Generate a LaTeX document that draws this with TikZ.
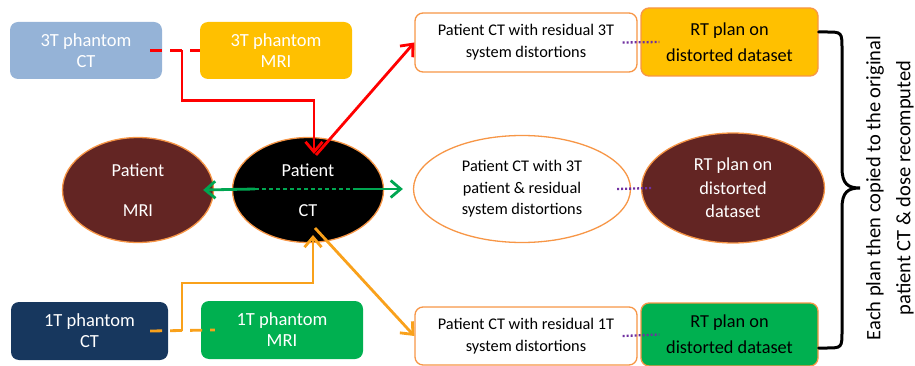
\documentclass[tikz,border=0pt]{standalone}
\usepackage{fontspec}
\setmainfont{Carlito}
\usetikzlibrary{arrows.meta,shapes.geometric}
\definecolor{phblue}{HTML}{95B3D7}
\definecolor{phgold}{HTML}{FFC000}
\definecolor{phnavy}{HTML}{17375E}
\definecolor{phgreen}{HTML}{00B050}
\definecolor{ptbrown}{HTML}{632523}
\definecolor{orng}{HTML}{F79646}
\definecolor{arrorng}{HTML}{F9A11B}
\definecolor{arrgreen}{HTML}{00A651}
\definecolor{purp}{HTML}{7030A0}
\tikzset{phbox/.style={rounded corners=8pt, minimum width=152pt, minimum height=57pt,
inner sep=0pt, align=center, text=white, font=\fontsize{18.5}{21}\selectfont},
wbox/.style={draw=orng, line width=1.3pt, fill=white, rounded corners=8pt, minimum width=222pt,
minimum height=59pt, inner sep=0pt, align=center, font=\fontsize{16.3}{22}\selectfont},
rbox/.style={draw=orng, line width=1.3pt, rounded corners=8pt, minimum width=177pt,
minimum height=68pt, inner sep=0pt, align=center, font=\fontsize{18.3}{26}\selectfont},
pell/.style={ellipse, draw=orng, line width=1.3pt, minimum width=151pt, minimum height=105pt,
inner sep=0pt, align=center, text=white, font=\fontsize{18.3}{40}\selectfont},
redarr/.style={draw=red, line width=2.8pt, -{Straight Barb[length=10pt,width=17pt]}},
reddash/.style={draw=red, line width=2.8pt, dash pattern=on 12pt off 8pt},
grnarr/.style={draw=arrgreen, line width=2.8pt, -{Straight Barb[length=10pt,width=17pt]}},
grndash/.style={draw=arrgreen, line width=1.8pt, dash pattern=on 4pt off 3pt},
orgarr/.style={draw=arrorng, line width=2.8pt, -{Straight Barb[length=10pt,width=17pt]}},
orgdash/.style={draw=arrorng, line width=2.8pt, dash pattern=on 12pt off 8pt},
purdot/.style={draw=purp, line width=2.3pt, dash pattern=on 2pt off 2pt},
brc/.style={draw=black, line width=3pt, line cap=round}}
\begin{document}
\begin{tikzpicture}[x=1pt,y=-1pt]
\useasboundingbox (0,0) rectangle (915,366);
% phantom scans
\node[phbox, fill=phblue] (ctA) at (86,50.5) {3T phantom\\CT};
\node[phbox, fill=phgold] (mriA) at (276,50.5) {3T phantom\\MRI};
\node[phbox, fill=phnavy, minimum width=157pt, minimum height=58pt] (ctB) at (89.5,331) {1T phantom\\CT};
\node[phbox, fill=phgreen, minimum width=162pt, minimum height=58pt] (mriB) at (282,330) {1T phantom\\MRI};
% patient scans
\node[pell, fill=ptbrown] (pMRI) at (138,190) {Patient\\MRI};
\node[pell, fill=black] (pCT) at (308,190) {Patient\\CT};
% distorted datasets
\node[wbox] (dA) at (526,42.5) {Patient CT with residual 3T\\system distortions};
\node[pell, fill=white, text=black, minimum width=217pt, minimum height=107pt,
font=\fontsize{16.3}{21.5}\selectfont] (dM) at (522,189) {Patient CT with 3T\\patient \& residual\\system distortions};
\node[wbox, minimum height=58pt] (dB) at (526,336) {Patient CT with residual 1T\\system distortions};
% plans
\node[rbox, fill=phgold] (rA) at (729.5,42) {RT plan on\\distorted dataset};
\node[pell, fill=ptbrown, minimum width=183pt, minimum height=110pt,
font=\fontsize{18.3}{23.5}\selectfont] (rM) at (733,188) {RT plan on\\distorted\\dataset};
\node[rbox, fill=phgreen, minimum height=63pt] (rB) at (729.5,334.5) {RT plan on\\distorted dataset};
% connectors
\coordinate (rj) at (182,50.5);
\coordinate (rin) at (314,154);
\coordinate (rout) at (316,155);
\coordinate (gl) at (255,189);
\coordinate (gr) at (353,189);
\coordinate (oj) at (182,331);
\coordinate (oin) at (313,235);
\coordinate (oout) at (315,228);
\draw[reddash] ([xshift=-12pt]ctA.east) -- (mriA.west);
\draw[redarr] (rj) -- ++(0,50) -| (rin);
\draw[redarr] (rout) -- (dA.west);
\draw[grnarr] (gl) -- ([xshift=-11pt]pMRI.east);
\draw[grndash] (gl) -- (gr);
\draw[grnarr] (gr) -- ([xshift=-10pt]dM.west);
\draw[orgdash] ([xshift=-18pt]ctB.east) -- ([xshift=14pt]mriB.west);
\draw[orgarr] (oj) -- ++(0,-48) -| (oin);
\draw[orgarr] (oout) -- (dB.west);
\draw[purdot] ([xshift=-15pt]dA.east) -- ([xshift=19pt]rA.west);
\draw[purdot] ([xshift=-14pt]dM.east) -- ([xshift=11pt]rM.west);
\draw[purdot] ([xshift=-15pt]dB.east) -- ([xshift=19pt]rB.west);
% brace
\coordinate (bt) at ([yshift=10pt]rA.east);
\coordinate (bb) at ([yshift=-13.5pt]rB.east);
\draw[brc] (bt) -- (826,32) .. controls (842,32) .. (842,50) -- (842,168)
  .. controls (842,184) and (848,188) .. (860,188)
  .. controls (848,188) and (842,192) .. (842,208) -- (842,330)
  .. controls (842,348) .. (826,348) -- (bb);
\node[rotate=90, align=center, font=\fontsize{20.5}{30}\selectfont] (note) at (890,188)
  {Each plan then copied to the original\\patient CT \& dose recomputed};
\end{tikzpicture}
\end{document}
